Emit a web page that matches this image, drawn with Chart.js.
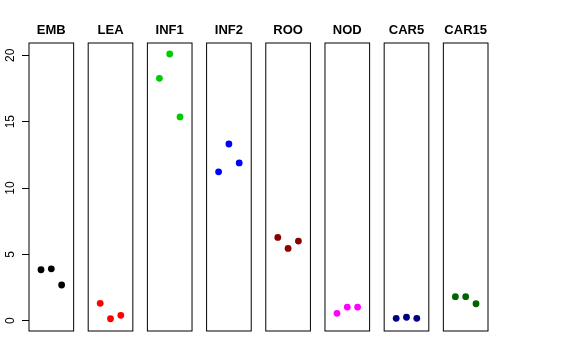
<!DOCTYPE html>
<html>
<head>
<meta charset="utf-8">
<script src="https://cdn.jsdelivr.net/npm/chart.js@4/dist/chart.umd.min.js"></script>
<style>
html,body{margin:0;padding:0;background:#fff;}
canvas{display:block;}
</style>
</head>
<body>
<canvas id="c" width="576" height="360"></canvas>
<script>
// ---- data ----
const categories = ["EMB", "LEA", "INF1", "INF2", "ROO", "NOD", "CAR5", "CAR15"];
const colors = ["#000000", "#FF0000", "#00CD00", "#0000FF", "#8B0000", "#FF00FF", "#000080", "#006400"];
const EMB   = [3.84, 3.91, 2.69];
const LEA   = [1.31, 0.15, 0.41];
const INF1  = [18.27, 20.10, 15.36];
const INF2  = [11.22, 13.32, 11.89];
const ROO   = [6.28, 5.45, 6.00];
const NOD   = [0.56, 1.03, 1.03];
const CAR5  = [0.18, 0.26, 0.18];
const CAR15 = [1.81, 1.81, 1.28];
const seriesValues = [EMB, LEA, INF1, INF2, ROO, NOD, CAR5, CAR15];
const yTicks = [0, 5, 10, 15, 20];

// ---- layout ----
const panelStep = 5.742;   // x-units between panel origins
const panelLo = -0.165, panelHi = 4.165;
const yMin = -0.775, yMax = 20.93;

const datasets = seriesValues.map((vals, i) => ({
  label: categories[i],
  data: vals.map((v, j) => ({ x: i * panelStep + j + 1, y: v })),
  backgroundColor: colors[i],
  borderColor: colors[i],
  borderWidth: 0,
  pointRadius: 3.4,
  pointHoverRadius: 3.4
}));

const panelsPlugin = {
  id: 'panels',
  beforeDatasetsDraw(chart) {
    const ctx = chart.ctx, xs = chart.scales.x, ca = chart.chartArea;
    ctx.save();
    ctx.strokeStyle = '#000';
    ctx.lineWidth = 1;
    categories.forEach((c, i) => {
      const l = xs.getPixelForValue(i * panelStep + panelLo);
      const r = xs.getPixelForValue(i * panelStep + panelHi);
      ctx.strokeRect(l, ca.top, r - l, ca.bottom - ca.top);
    });
    ctx.restore();
  },
  afterDraw(chart) {
    const ctx = chart.ctx, xs = chart.scales.x, ys = chart.scales.y;
    ctx.save();
    ctx.fillStyle = '#000';
    ctx.font = 'bold 13px "Liberation Sans", Arial, Helvetica, sans-serif';
    ctx.textAlign = 'center';
    ctx.textBaseline = 'alphabetic';
    categories.forEach((c, i) => {
      const cx = xs.getPixelForValue(i * panelStep + (panelLo + panelHi) / 2);
      ctx.fillText(c, cx, 34.3);
    });
    ctx.font = '12px "Liberation Sans", Arial, Helvetica, sans-serif';
    yTicks.forEach(v => {
      const py = ys.getPixelForValue(v);
      ctx.save();
      ctx.translate(14.2, py);
      ctx.rotate(-Math.PI / 2);
      ctx.textAlign = 'center';
      ctx.textBaseline = 'alphabetic';
      ctx.fillText(String(v), 0, 0);
      ctx.restore();
    });
    ctx.restore();
  }
};

new Chart(document.getElementById('c'), {
  type: 'scatter',
  data: { datasets },
  options: {
    responsive: false,
    animation: false,
    layout: { padding: { left: 0, right: 88, top: 43, bottom: 29 } },
    plugins: { legend: { display: false }, tooltip: { enabled: false } },
    scales: {
      x: {
        type: 'linear',
        display: false,
        min: panelLo,
        max: 7 * panelStep + panelHi
      },
      y: {
        type: 'linear',
        min: yMin,
        max: yMax,
        afterBuildTicks: s => { s.ticks = yTicks.map(v => ({ value: v })); },
        afterFit: s => { s.width = 29; },
        ticks: { display: false },
        border: { display: false },
        grid: { drawOnChartArea: false, drawTicks: true, tickLength: 7, color: '#000', lineWidth: 1 }
      }
    }
  },
  plugins: [panelsPlugin]
});
</script>
</body>
</html>
